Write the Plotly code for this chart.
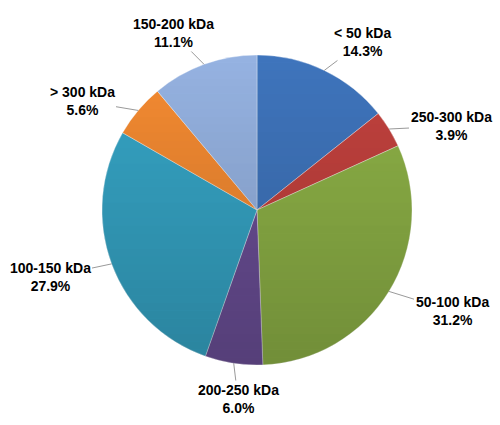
import math
import plotly.graph_objects as go

# ---- data ----
labels = ["< 50 kDa", "250-300 kDa", "50-100 kDa", "200-250 kDa",
          "100-150 kDa", "> 300 kDa", "150-200 kDa"]
values = [14.3, 3.9, 31.2, 6.0, 27.9, 5.6, 11.1]
colors = ["#3f75bd", "#c3423e", "#8eb247", "#6b4f97", "#36a5c6", "#f58b32", "#96b3e2"]

# ---- layout/style (pixel geometry of the 500x425 canvas) ----
W, H = 500, 425
CX, CY, R = 257, 210, 155
label_centers = [(362, 42), (451, 126), (452, 311), (238, 399),
                 (50, 277), (82, 101), (173, 33)]

fig = go.Figure()
fig.add_trace(go.Pie(
    labels=labels, values=values, sort=False, direction="clockwise",
    rotation=0, textinfo="none", hoverinfo="label+percent",
    marker=dict(colors=colors, line=dict(color="rgba(255,255,255,0.6)", width=0.6)),
    domain=dict(x=[(CX - R) / W, (CX + R) / W],
                y=[(H - CY - R) / H, (H - CY + R) / H]),
    showlegend=False,
))

# vertical shading (lighter top -> darker bottom) as horizontal circle bands
NB = 40
shapes = []
for i in range(NB):
    y1 = CY - R + 2 * R * i / NB
    y2 = CY - R + 2 * R * (i + 1) / NB
    pts = []
    steps = 12
    for k in range(steps + 1):
        yy = y1 + (y2 - y1) * k / steps
        dx = math.sqrt(max(R * R - (yy - CY) ** 2, 0))
        pts.append((CX - dx, yy))
    for k in range(steps, -1, -1):
        yy = y1 + (y2 - y1) * k / steps
        dx = math.sqrt(max(R * R - (yy - CY) ** 2, 0))
        pts.append((CX + dx, yy))
    path = "M " + " L ".join(f"{x / W:.5f},{1 - y / H:.5f}" for x, y in pts) + " Z"
    alpha = 0.20 * (i + 0.5) / NB
    shapes.append(dict(type="path", path=path, xref="paper", yref="paper",
                       fillcolor=f"rgba(0,0,0,{alpha:.3f})", line=dict(width=0),
                       layer="above"))

total = sum(values)
cum = 0.0
annotations = []
for lab, v, (lx, ly) in zip(labels, values, label_centers):
    mid = (cum + v / 2) / total * 2 * math.pi
    cum += v
    ex = CX + R * math.sin(mid)
    ey = CY - R * math.cos(mid)
    annotations.append(dict(
        x=ex / W, y=1 - ey / H, xref="paper", yref="paper",
        text=f"<b>{lab}</b><br><b>{v:.1f}%</b>", showarrow=True, arrowhead=0,
        arrowwidth=0.8, arrowcolor="#7f7f7f",
        ax=lx - ex, ay=ly - ey, align="center",
        font=dict(family="Liberation Sans", size=14, color="#000000"),
    ))

fig.update_layout(
    width=W, height=H, margin=dict(l=0, r=0, t=0, b=0),
    paper_bgcolor="white", plot_bgcolor="white",
    annotations=annotations, shapes=shapes,
)
fig.write_html("out.html", config={"displayModeBar": False},
               post_script="document.body.style.margin='0';document.body.style.overflow='hidden';")
